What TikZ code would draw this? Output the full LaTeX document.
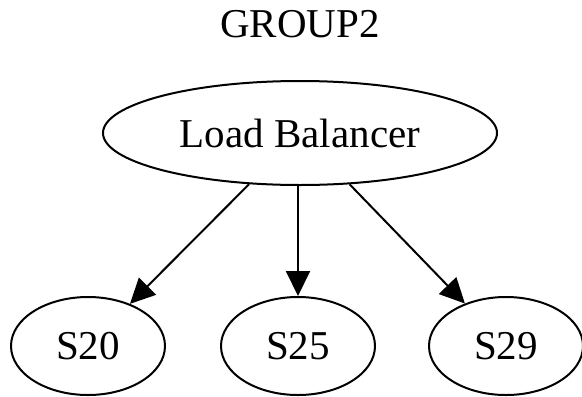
\documentclass[tikz,border=0pt]{standalone}
\usepackage{fontspec}
\setmainfont{Liberation Serif}
\usetikzlibrary{positioning,shapes.geometric,arrows.meta}

\begin{document}
\begin{tikzpicture}[
  x=0.5pt,y=-0.5pt,
  line width=1pt,
  every node/.style={font=\fontsize{20.5}{24}\selectfont,inner sep=0pt},
  srvnode/.style={draw,ellipse,minimum width=77pt,minimum height=49pt},
  edge/.style={draw,-{Triangle[length=12.5pt,width=12pt]}}
]
\useasboundingbox (0,0) rectangle (582,396);
\node (title) at (300,24) {GROUP2};
\node[draw,ellipse,minimum width=197pt,minimum height=52pt] (lb) at (300,133) {Load Balancer};
\node[srvnode] (s20) at (88,346) {S20};
\node[srvnode] (s25) at (298,346) {S25};
\node[srvnode] (s29) at (506,346) {S29};
% edges
\path[edge] (lb) -- (s20);
\path[edge] (lb.south -| s25) -- (s25);
\path[edge] (lb) -- (s29);
\end{tikzpicture}
\end{document}
